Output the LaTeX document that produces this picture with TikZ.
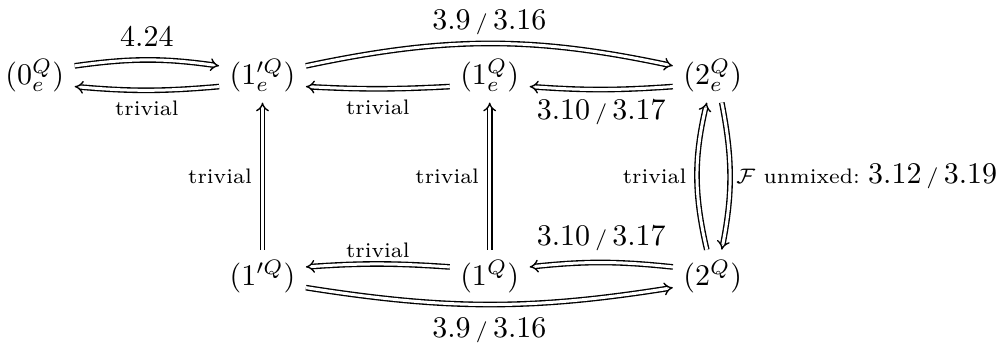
\documentclass[tikz,border=0pt]{standalone}
\usepackage{amsmath,amssymb}
\usetikzlibrary{arrows.meta,positioning}
\tikzset{
 obj/.style={anchor=base,inner sep=3.33pt},
 dbl/.style={double,double distance=1pt,line width=0.45pt,-{Implies[scale=1.15]}},
 lbl/.style={font=\scriptsize},
}
\begin{document}
\begin{tikzpicture}
\useasboundingbox (0,0) rectangle (11.776,4.031);
% objects
\node[obj] (z0e) at (0.407,3.041) {$(0^Q_e)$};
\node[obj] (p1e) at (3.076,3.041) {$(1'^Q_e)$};
\node[obj] (o1e) at (5.738,3.041) {$(1^Q_e)$};
\node[obj] (t2e) at (8.352,3.041) {$(2^Q_e)$};
\node[obj] (p1) at (3.076,0.685) {$(1'^Q)$};
\node[obj] (o1) at (5.738,0.685) {$(1^Q)$};
\node[obj] (t2) at (8.352,0.685) {$(2^Q)$};
% top row
\draw[dbl] ([yshift=6.2pt]z0e.base east) to[bend left=8] node[above=1pt]{$4.24$} ([yshift=6.2pt]p1e.base west);
\draw[dbl] ([yshift=-0.7pt]p1e.base west) to[bend left=5] node[below,lbl]{trivial} ([yshift=-0.7pt]z0e.base east);
\draw[dbl] ([yshift=6.2pt]p1e.base east) to[bend left=12] node[above=-0.5pt]{$3.9\,{\scriptstyle/}\,3.16$} ([yshift=6.2pt]t2e.base west);
\draw[dbl] ([yshift=-0.7pt]o1e.base west) to[bend left=3] node[below,lbl]{trivial} ([yshift=-0.7pt]p1e.base east);
\draw[dbl] ([yshift=-0.7pt]t2e.base west) to[bend left=4] node[below]{$3.10\,{\scriptstyle/}\,3.17$} ([yshift=-0.7pt]o1e.base east);
% bottom row
\draw[dbl] ([yshift=6.2pt]o1.base west) to[bend right=4] node[above=-1.5pt,lbl]{trivial} ([yshift=6.2pt]p1.base east);
\draw[dbl] ([yshift=6.2pt]t2.base west) to[bend right=6] node[above=0.5pt]{$3.10\,{\scriptstyle/}\,3.17$} ([yshift=6.2pt]o1.base east);
\draw[dbl] ([yshift=-0.7pt]p1.base east) to[bend right=9] node[below=1pt]{$3.9\,{\scriptstyle/}\,3.16$} ([yshift=-0.7pt]t2.base west);
% verticals
\draw[dbl] (p1) -- node[left,lbl]{trivial} (p1e);
\draw[dbl] (o1) -- node[left,lbl]{trivial} (o1e);
\draw[dbl] ([xshift=-2pt]t2.north) to[bend left=13] node[left,lbl]{trivial} ([xshift=-2pt]t2e.south);
\draw[dbl] ([xshift=3pt]t2e.south) to[bend left=11] node[right=-1.5pt]{{\scriptsize$\mathcal{F}$ unmixed:}\;$3.12\,{\scriptstyle/}\,3.19$} ([xshift=3pt]t2.north);
\end{tikzpicture}
\end{document}
